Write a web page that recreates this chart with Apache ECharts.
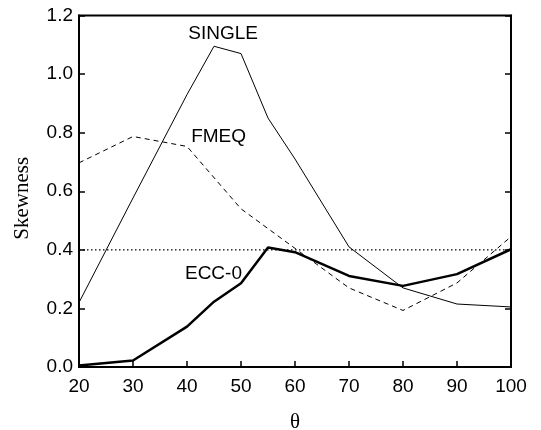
<!DOCTYPE html>
<html><head><meta charset="utf-8">
<script src="https://cdn.jsdelivr.net/npm/echarts@6/dist/echarts.min.js"></script>
<style>html,body{margin:0;padding:0;background:#fff}#c{width:541px;height:430px}</style>
</head><body><div id="c"></div>
<script>
const singleX = [20, 30, 40, 45, 50, 55, 60, 70, 80, 90, 100];
const singleY = [0.22, 0.577, 0.93, 1.095, 1.07, 0.85, 0.71, 0.41, 0.27, 0.215, 0.205];
const fmeqX = [20, 30, 40, 50, 60, 70, 80, 90, 100];
const fmeqY = [0.697, 0.787, 0.753, 0.54, 0.405, 0.27, 0.193, 0.287, 0.445];
const eccX = [20, 30, 40, 45, 50, 55, 60, 70, 80, 90, 100];
const eccY = [0.005, 0.022, 0.138, 0.223, 0.286, 0.408, 0.392, 0.311, 0.277, 0.317, 0.402];
const refX = [20, 100];
const refY = [0.4, 0.4];
const yTicks = ['0.0', '0.2', '0.4', '0.6', '0.8', '1.0', '1.2'];
const seriesLabels = [
  {name: 'SINGLE', x: 46.7, y: 1.137},
  {name: 'FMEQ', x: 45.85, y: 0.785},
  {name: 'ECC-0', x: 44.9, y: 0.3175}
];
const pairs = (xs, ys) => xs.map((x, i) => [x, ys[i]]);
const chart = echarts.init(document.getElementById('c'));
const lblFont = {fontFamily: 'Liberation Sans, Arial, sans-serif', fontSize: 19, color: '#000'};
chart.setOption({
  animation: false,
  grid: {left: 79, right: 30, top: 15.5, bottom: 63, containLabel: false, outerBoundsMode: 'none',
         show: true, borderColor: '#000', borderWidth: 2},
  xAxis: {
    type: 'value', min: 20, max: 100, interval: 10,
    name: 'θ', nameLocation: 'middle', nameGap: 45,
    nameTextStyle: {fontFamily: 'Liberation Serif, Times New Roman, serif', fontSize: 21, color: '#000'},
    axisLine: {lineStyle: {color: '#000', width: 2}},
    axisTick: {inside: true, length: 6, lineStyle: {color: '#000', width: 1.5}},
    axisLabel: Object.assign({margin: 10}, lblFont),
    splitLine: {show: false}
  },
  yAxis: [{
    type: 'value', min: 0, max: 1.2, interval: 0.2,
    name: 'Skewness', nameLocation: 'middle', nameGap: 46, nameRotate: 90,
    nameTextStyle: {fontFamily: 'Liberation Serif, Times New Roman, serif', fontSize: 21, color: '#000', padding: [0, 14, 0, 0]},
    axisLine: {lineStyle: {color: '#000', width: 2}},
    axisTick: {inside: true, length: 6, lineStyle: {color: '#000', width: 1.5}},
    axisLabel: Object.assign({margin: 6, formatter: (v) => yTicks[Math.round(v / 0.2)]}, lblFont),
    splitLine: {show: false}
  }, {
    type: 'value', min: 0, max: 1.2, interval: 0.2, position: 'right',
    axisLine: {show: true, lineStyle: {color: '#000', width: 2}},
    axisTick: {inside: true, length: 6, lineStyle: {color: '#000', width: 1.5}},
    axisLabel: {show: false}, splitLine: {show: false}
  }],
  series: [
    {type: 'line', data: pairs(singleX, singleY), symbol: 'none', lineStyle: {color: '#000', width: 1}, z: 3,
     markPoint: {symbol: 'circle', symbolSize: 0, silent: true,
       data: seriesLabels.map(l => ({coord: [l.x, l.y], label: Object.assign({show: true, position: 'inside', formatter: l.name}, lblFont)}))}},
    {type: 'line', data: pairs(fmeqX, fmeqY), symbol: 'none', lineStyle: {color: '#000', width: 1, type: [5, 4]}, z: 3},
    {type: 'line', data: pairs(eccX, eccY), symbol: 'none', lineStyle: {color: '#000', width: 2.5}, z: 4},
    {type: 'line', data: pairs(refX, refY), symbol: 'none', lineStyle: {color: '#000', width: 1.2, type: [1.5, 2.5]}, z: 2}
  ]
});
</script></body></html>
